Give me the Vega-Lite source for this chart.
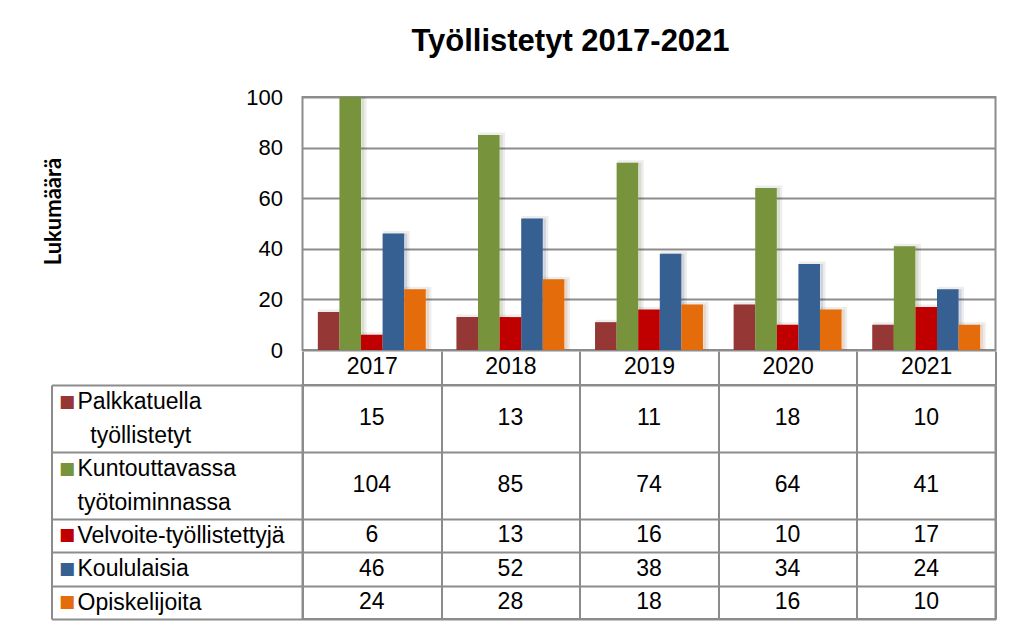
{
  "$schema": "https://vega.github.io/schema/vega-lite/v6.json",
  "background": "white",
  "padding": {"left": 41.5, "top": 26, "right": 10, "bottom": 2},
  "config": {
    "font": "Liberation Sans",
    "view": {"stroke": "#8c8c8c", "strokeWidth": 2},
    "axis": {"labelColor": "#000", "labelFont": "Liberation Sans"}
  },
  "title": {"text": "Työllistetyt 2017-2021", "font": "Liberation Sans", "fontSize": 31, "fontWeight": "bold", "color": "#000", "anchor": "middle", "offset": 27, "dx": 51},
  "data": {"values": [
    {"year": "2017", "series": "Palkkatuella työllistetyt", "value": 15},
    {"year": "2018", "series": "Palkkatuella työllistetyt", "value": 13},
    {"year": "2019", "series": "Palkkatuella työllistetyt", "value": 11},
    {"year": "2020", "series": "Palkkatuella työllistetyt", "value": 18},
    {"year": "2021", "series": "Palkkatuella työllistetyt", "value": 10},
    {"year": "2017", "series": "Kuntouttavassa työtoiminnassa", "value": 104},
    {"year": "2018", "series": "Kuntouttavassa työtoiminnassa", "value": 85},
    {"year": "2019", "series": "Kuntouttavassa työtoiminnassa", "value": 74},
    {"year": "2020", "series": "Kuntouttavassa työtoiminnassa", "value": 64},
    {"year": "2021", "series": "Kuntouttavassa työtoiminnassa", "value": 41},
    {"year": "2017", "series": "Velvoite-työllistettyjä", "value": 6},
    {"year": "2018", "series": "Velvoite-työllistettyjä", "value": 13},
    {"year": "2019", "series": "Velvoite-työllistettyjä", "value": 16},
    {"year": "2020", "series": "Velvoite-työllistettyjä", "value": 10},
    {"year": "2021", "series": "Velvoite-työllistettyjä", "value": 17},
    {"year": "2017", "series": "Koululaisia", "value": 46},
    {"year": "2018", "series": "Koululaisia", "value": 52},
    {"year": "2019", "series": "Koululaisia", "value": 38},
    {"year": "2020", "series": "Koululaisia", "value": 34},
    {"year": "2021", "series": "Koululaisia", "value": 24},
    {"year": "2017", "series": "Opiskelijoita", "value": 24},
    {"year": "2018", "series": "Opiskelijoita", "value": 28},
    {"year": "2019", "series": "Opiskelijoita", "value": 18},
    {"year": "2020", "series": "Opiskelijoita", "value": 16},
    {"year": "2021", "series": "Opiskelijoita", "value": 10}
  ]},
  "bounds": "flush",
  "spacing": 35,
  "resolve": {"scale": {"x": "independent", "y": "independent", "color": "independent"}},
  "vconcat": [
    {
      "width": 693,
      "height": 253,
      "encoding": {
        "x": {"field": "year", "type": "nominal", "scale": {"paddingInner": 0, "paddingOuter": 0}, "axis": null},
        "y": {"field": "value", "type": "quantitative", "scale": {"domain": [0, 100], "nice": false},
          "axis": {"values": [0, 20, 40, 60, 80, 100], "grid": true, "gridColor": "#8c8c8c", "gridWidth": 2, "ticks": false, "domain": false, "labelPadding": 20, "labelFontSize": 22, "title": "Lukumäärä", "titleFont": "Lato", "titleFontSize": 22, "titleFontWeight": "bold", "titleColor": "#000", "titleX": -237, "titleY": 114}},
        "color": {"field": "series", "type": "nominal", "scale": {"domain": ["Palkkatuella työllistetyt", "Kuntouttavassa työtoiminnassa", "Velvoite-työllistettyjä", "Koululaisia", "Opiskelijoita"], "range": ["#953735", "#77933C", "#C00000", "#376092", "#E46C0A"]}, "legend": null}
      },
      "resolve": {"scale": {"xOffset": "independent"}},
      "layer": [
        {"mark": {"type": "bar", "clip": true, "color": "#000", "fillOpacity": 0.16, "stroke": "#000", "strokeWidth": 5, "strokeOpacity": 0.07},
          "encoding": {"xOffset": {"field": "series", "type": "nominal", "sort": ["Palkkatuella työllistetyt", "Kuntouttavassa työtoiminnassa", "Velvoite-työllistettyjä", "Koululaisia", "Opiskelijoita"], "scale": {"paddingInner": 0, "paddingOuter": 0.71, "align": 0.6}}}},
        {"mark": {"type": "bar", "clip": true},
          "encoding": {"xOffset": {"field": "series", "type": "nominal", "sort": ["Palkkatuella työllistetyt", "Kuntouttavassa työtoiminnassa", "Velvoite-työllistettyjä", "Koululaisia", "Opiskelijoita"], "scale": {"paddingInner": 0, "paddingOuter": 0.71}}}}
      ]
    },
    {
      "width": 693,
      "height": 234,
      "resolve": {"axis": {"y": "independent"}},
      "layer": [
        {
          "transform": [{"filter": "datum.series == 'Palkkatuella työllistetyt' || datum.series == 'Kuntouttavassa työtoiminnassa'"}],
          "mark": {"type": "text", "fontSize": 23, "color": "#000", "baseline": "middle"},
          "encoding": {
            "x": {"field": "year", "type": "nominal", "scale": {"paddingInner": 0, "paddingOuter": 0},
              "axis": {"orient": "top", "title": null, "tickBand": "extent", "ticks": true, "tickSize": 34, "tickColor": "#8c8c8c", "tickWidth": 2, "grid": true, "gridColor": "#8c8c8c", "gridWidth": 2, "domain": false, "labelAngle": 0, "labelBaseline": "middle", "labelPadding": -15.5, "labelFontSize": 23}},
            "y": {"field": "series", "type": "nominal", "bandPosition": 1,
              "scale": {"domain": ["Palkkatuella työllistetyt", "P2", "Kuntouttavassa työtoiminnassa", "K2", "Velvoite-työllistettyjä", "Koululaisia", "Opiskelijoita"], "paddingInner": 0, "paddingOuter": 0},
              "axis": {"orient": "left", "title": null, "tickBand": "extent", "ticks": true, "tickSize": 251, "tickWidth": 2,
                "tickColor": {"condition": {"test": "datum.value == 'Palkkatuella työllistetyt' || datum.value == 'Kuntouttavassa työtoiminnassa'", "value": "transparent"}, "value": "#8c8c8c"},
                "grid": true, "gridWidth": 2,
                "gridColor": {"condition": {"test": "datum.value == 'Palkkatuella työllistetyt' || datum.value == 'Kuntouttavassa työtoiminnassa'", "value": "transparent"}, "value": "#8c8c8c"},
                "domain": false, "labelAlign": "left", "labelBaseline": "middle", "labelPadding": -25.5, "labelFontSize": 23, "labelLimit": 400,
                "labelExpr": "datum.value == 'Palkkatuella työllistetyt' ? 'Palkkatuella' : datum.value == 'P2' ? '\u200b\u00a0\u00a0työllistetyt' : datum.value == 'Kuntouttavassa työtoiminnassa' ? 'Kuntouttavassa' : datum.value == 'K2' ? 'työtoiminnassa' : datum.value"}},
            "text": {"field": "value", "type": "quantitative"}
          }
        },
        {
          "transform": [{"filter": "datum.series != 'Palkkatuella työllistetyt' && datum.series != 'Kuntouttavassa työtoiminnassa'"}],
          "mark": {"type": "text", "fontSize": 23, "color": "#000", "baseline": "middle"},
          "encoding": {
            "x": {"field": "year", "type": "nominal", "scale": {"paddingInner": 0, "paddingOuter": 0}},
            "y": {"field": "series", "type": "nominal",
              "scale": {"domain": ["Palkkatuella työllistetyt", "P2", "Kuntouttavassa työtoiminnassa", "K2", "Velvoite-työllistettyjä", "Koululaisia", "Opiskelijoita"], "paddingInner": 0, "paddingOuter": 0},
              "axis": {"orient": "left", "offset": 251, "title": null, "ticks": false, "grid": false, "domain": true, "domainColor": "#8c8c8c", "domainWidth": 2,
                "labelAlign": "left", "labelBaseline": "middle", "labelPadding": -7, "labelFont": "DejaVu Sans", "labelFontSize": 17,
                "labelExpr": "datum.value == 'P2' || datum.value == 'K2' ? '' : '■'",
                "labelColor": {"condition": [
                  {"test": "datum.value == 'Palkkatuella työllistetyt'", "value": "#953735"},
                  {"test": "datum.value == 'Kuntouttavassa työtoiminnassa'", "value": "#77933C"},
                  {"test": "datum.value == 'Velvoite-työllistettyjä'", "value": "#C00000"},
                  {"test": "datum.value == 'Koululaisia'", "value": "#376092"}
                ], "value": "#E46C0A"}}},
            "text": {"field": "value", "type": "quantitative"}
          }
        }
      ]
    }
  ]
}
